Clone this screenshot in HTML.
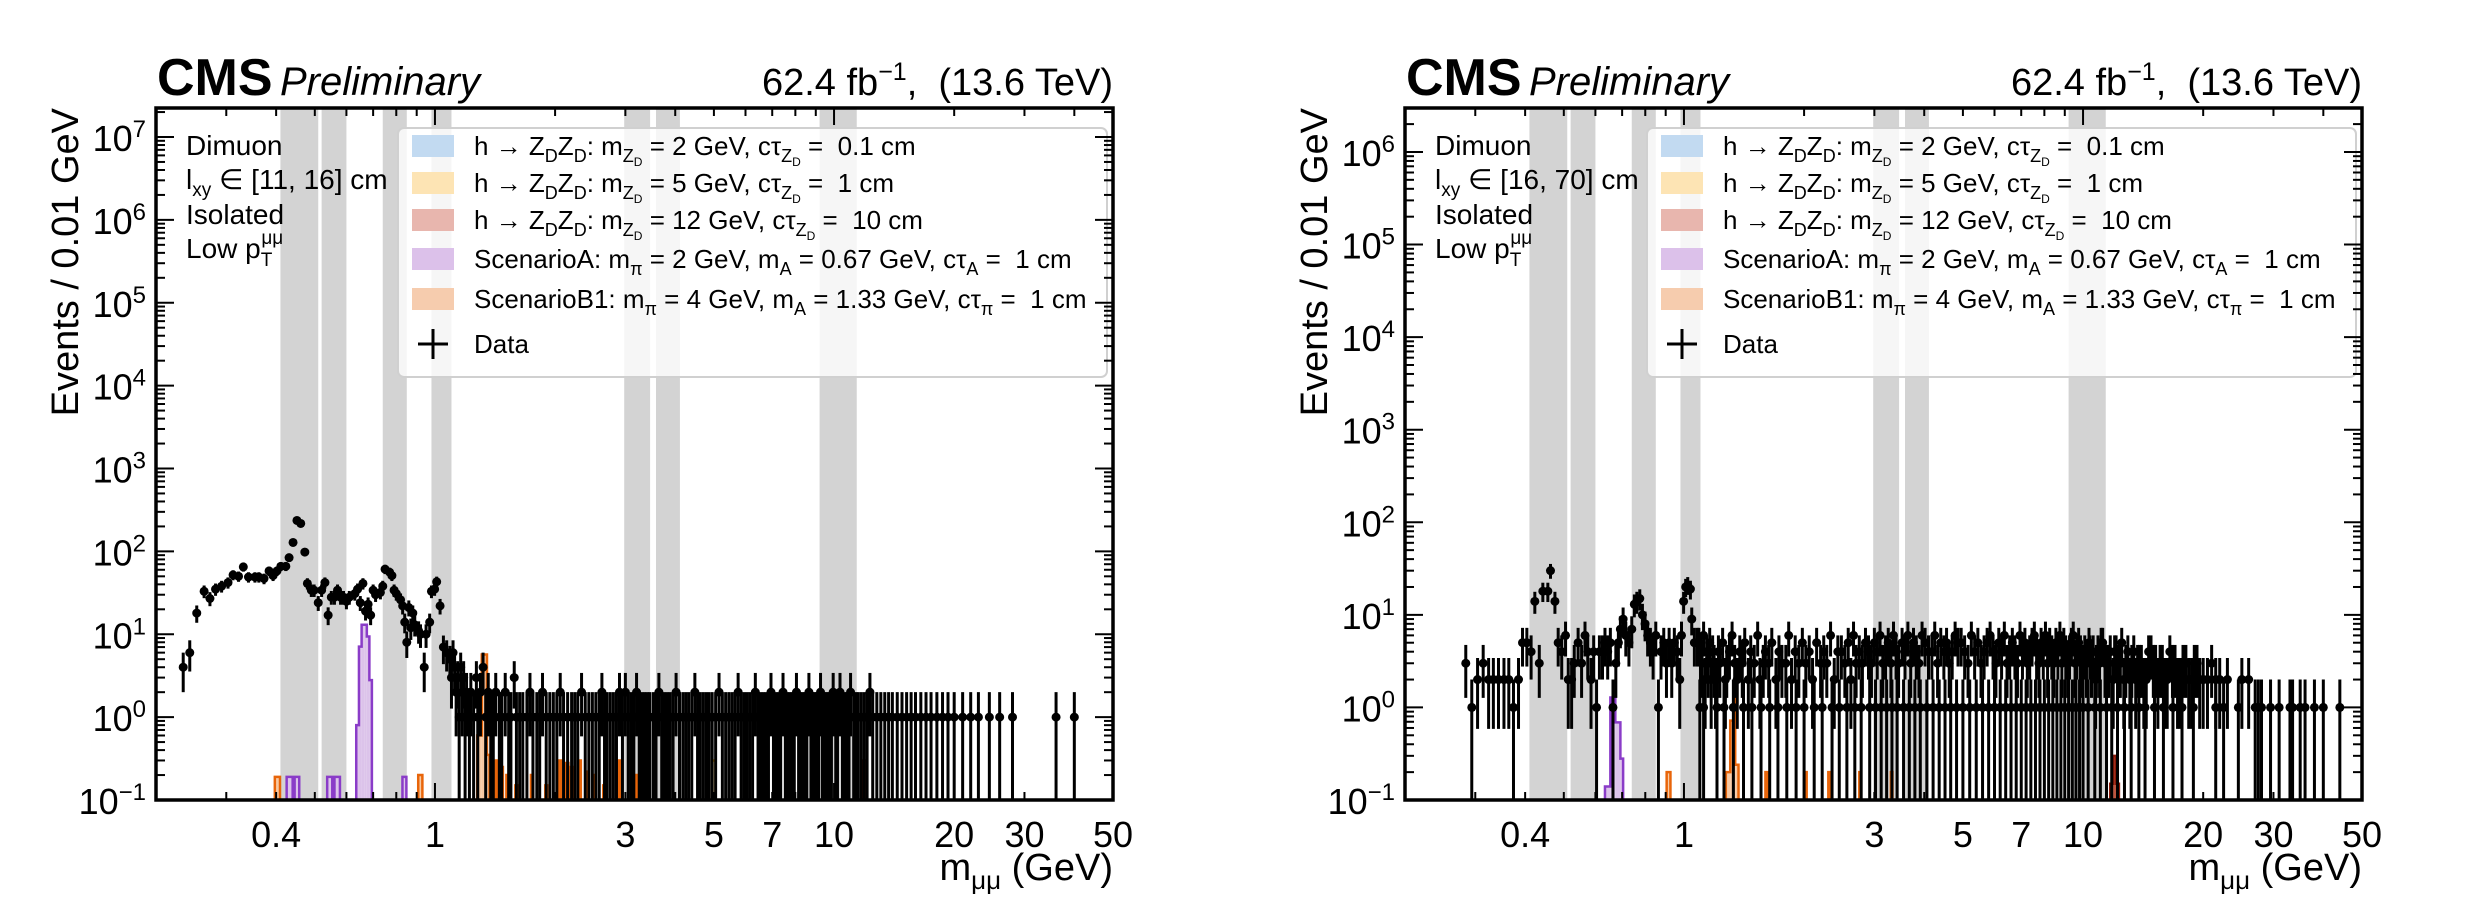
<!DOCTYPE html>
<html><head><meta charset="utf-8"><style>
html,body{margin:0;padding:0;background:#fff}
svg{display:block;font-family:"Liberation Sans",Arial,sans-serif}
</style></head><body>
<svg id="fig" width="2486" height="898" viewBox="0 0 2486 898" xmlns="http://www.w3.org/2000/svg">
<g id="p0"></g>
<g id="p1"></g>
</svg>
<script>
// ---------------- DATA ----------------
const vetoLo = [0.41, 0.52, 0.74, 0.98, 2.98, 3.58, 9.2];
const vetoHi = [0.51, 0.60, 0.85, 1.10, 3.46, 4.11, 11.4];
const xTickVals = [0.4, 1, 3, 5, 7, 10, 20, 30, 50];
const xTickLabels = ["0.4", "1", "3", "5", "7", "10", "20", "30", "50"];

const leftLowMass = [0.234,0.243,0.253,0.264,0.273,0.282,0.292,0.303,0.312,0.322,0.331,0.341,0.354,0.362,0.373,0.384,0.393,0.402,0.411,0.423,0.431,0.441,0.451,0.461,0.472,0.479,0.490,0.498,0.51,0.52,0.53,0.54,0.55,0.56,0.57,0.58,0.59,0.60,0.61,0.63,0.64,0.65,0.66,0.67,0.68,0.69,0.70,0.71,0.73,0.74,0.75,0.77,0.78,0.79,0.80,0.82,0.83,0.84,0.85,0.86,0.87,0.88,0.89,0.91,0.92,0.94,0.95,0.97,0.98,0.998,1.01,1.03,1.05,1.07];
const leftLowCount = [4,6,18,33,27,35,38,42,52,50,65,49,49,49,47,58,51,58,66,66,84,128,236,217,98,41,34,34,24,34,42,17,28,28,34,28,28,25,28,31,35,24,41,19,23,17,34,30,32,38,61,56,51,34,31,26,22,14,8,21,12,18,13,11,10,4,10,14,33,35,43,22,7,6];

const hiMass = [1.09,1.10,1.11,1.12,1.13,1.14,1.15,1.16,1.17,1.18,1.19,1.20,
1.22,1.23,1.25,1.27,1.28,1.30,1.32,1.34,1.36,1.38,
1.40,1.42,1.45,1.47,1.50,1.53,1.55,1.58,1.60,1.63,
1.66,1.70,1.73,1.76,1.80,1.83,1.86,1.90,1.94,1.98,
2.02,2.06,2.10,2.15,2.20,2.24,2.28,2.33,2.38,2.43,
2.48,2.53,2.58,2.62,2.66,2.70,2.75,2.80,2.85,2.90,
2.95,3.00,3.05,3.10,3.15,3.20,3.25,3.30,3.35,3.40,3.45,
3.52,3.58,3.64,3.70,3.76,3.82,3.88,3.95,4.02,4.10,
4.18,4.25,4.32,4.40,4.48,4.55,4.62,4.70,4.78,4.86,
4.95,5.05,5.15,5.25,5.35,5.45,5.55,5.65,5.75,5.85,5.95,6.05,6.15,6.25,6.35,6.45,6.55,6.65,6.75,6.85,6.95,7.05,7.15,7.25,7.35,7.45,7.55,7.65,7.75,7.85,7.95,8.05,8.15,8.25,8.35,8.45,8.55,8.65,8.75,8.85,8.95,9.05,9.15,9.25,9.35,9.45,9.55,9.65,9.75,9.85,9.95,
10.1,10.2,10.35,10.5,10.6,10.75,10.9,11.0,11.2,11.35,
11.5,11.7,11.9,12.1,12.3,12.5,12.8,13.1,13.4,13.7,
14.0,14.4,14.8,15.2,15.6,16.0,16.5,17.0,17.5,18.1,
18.7,19.3,20.0,21.0,22.0,23.0,24.5,26.0,28.0,36.0,40.0];
const leftHiCount = [5,3,6,4,2,3,1,4,2,3,1,2,
1,2,1,3,1,2,4,1,2,1,
1,2,1,1,2,1,1,3,1,1,
1,1,2,1,1,1,2,1,1,1,
1,2,1,1,1,1,1,2,1,1,
1,1,1,2,1,1,1,1,1,2,
1,2,1,1,1,2,1,1,1,1,1,
1,1,2,1,1,1,1,1,2,1,
1,1,1,1,2,1,1,1,1,1,
1,1,2,1,1,1,1,1,2,1,1,1,1,1,2,1,1,1,1,1,2,1,1,1,1,2,1,1,1,1,1,2,1,1,1,1,1,2,1,1,1,1,1,2,1,1,1,1,1,1,2,
1,1,2,1,1,1,1,2,1,1,
1,1,1,1,2,1,1,1,1,1,
1,1,1,1,1,1,1,1,1,1,
1,1,1,1,1,1,1,1,1,1,1];

const rightLowMass = [0.284,0.294,0.304,0.314,0.324,0.333,0.343,0.354,0.364,0.374,0.385,0.394,0.404,0.414,0.423,0.434,0.443,0.456,0.463,0.475,0.484,0.494,0.505,0.513,0.523,0.531,0.543,0.554,0.565,0.574,0.585,0.594,0.604,0.614,0.625,0.634,0.644,0.654,0.664,0.675,0.685,0.693,0.704,0.715,0.728,0.740,0.751,0.762,0.775,0.787,0.799,0.811,0.824,0.837,0.85,0.863,0.876,0.89,0.904,0.918,0.932,0.946,0.962,0.976,0.986,0.998,1.01,1.022,1.038,1.046,1.062,1.08,1.096];
const rightLowCount = [3,1,2,3,2,2,2,2,2,1,2,5,5,4,14,3,18,18,30,14,5,4,6,2,2,3,5,3,6,4,2,4,1,4,4,5,4,5,1,3,5,7,9,6,5,7,13,14,15,10,8,6,5,4,6,1,4,5,3,5,3,5,4,2,6,14,20,21,19,9,5,5,1];
const rightHiCount = [5,4,3,6,2,4,3,5,2,4,3,2,
4,3,5,2,3,4,6,3,2,4,
3,5,2,4,3,6,2,3,4,3,
5,2,4,3,3,6,2,4,3,5,
3,4,2,5,3,4,3,6,2,4,
4,3,5,2,6,3,4,3,5,4,
3,5,4,6,3,4,5,3,6,4,3,
5,4,6,3,5,4,3,6,5,4,
4,6,3,5,4,5,3,4,6,5,
5,4,3,6,4,5,3,4,5,6,4,3,5,4,6,3,4,5,4,3,6,4,5,3,4,5,6,4,3,5,4,6,3,5,4,3,5,4,6,3,5,4,3,4,5,6,3,4,5,4,3,
4,3,5,3,4,2,4,3,5,3,
3,4,2,4,3,5,3,2,4,3,
3,2,4,3,3,2,4,3,2,3,
2,3,2,3,2,2,1,2,1,1,1];
const rightExtraMass = [10.4,10.8,11.1,11.6,12.0,12.4,12.65,12.95,13.25,13.55,13.85,14.2,14.6,15.0,15.4,15.8,16.25,16.75,17.25,17.8,18.4,19.0,19.6,20.5,21.5,22.5,25,27,29.5,31,33,35,38,44];
const rightExtraCount = [4,3,5,3,4,3,2,4,3,2,3,2,4,3,2,3,2,3,2,3,2,3,2,2,2,1,2,1,1,1,1,1,1,1];
const rightOnesMass = [1.12,1.21,1.26,1.33,1.41,1.48,1.56,1.64,1.72,1.81,1.91,2.00,2.12,2.22,2.35,2.45,2.56,2.68,2.78,2.92,3.02,3.12,3.22,3.32,3.42,3.55,3.67,3.79,3.91,4.06,4.21,4.36,4.51,4.66,4.82,5.0,5.2,5.4,5.6,5.8,6.0,6.2,6.4,6.6,6.8,7.0,7.2,7.4,7.6,7.8,8.0,8.2,8.4,8.6,8.8,9.0,9.2,9.4,9.6,9.8,10.0,10.3,10.7,11.05,11.45,11.8,12.2,12.7,13.2,13.8,14.3,15.1,15.9,16.8,17.7,18.9,21.5,27.5,33.5];

const leftPurpleLo = [0.425,0.445,0.537,0.56,0.635,0.645,0.655,0.665,0.675,0.685,0.829];
const leftPurpleHi = [0.44,0.457,0.553,0.578,0.645,0.655,0.665,0.675,0.685,0.695,0.848];
const leftPurpleVal = [0.19,0.19,0.19,0.19,0.8,7.1,13,13,9.4,2.8,0.19];
const leftOrangeLo = [0.397,0.908,1.276,1.31,1.33,1.35,1.41,1.46,1.51,1.59,1.74,1.89,2.04,2.13,2.19,2.29,2.39,2.49,2.64,2.89,3.19];
const leftOrangeHi = [0.409,0.93,1.31,1.33,1.35,1.37,1.43,1.48,1.53,1.61,1.76,1.91,2.07,2.16,2.22,2.32,2.42,2.52,2.67,2.92,3.22];
const leftOrangeVal = [0.19,0.2,0.6,5.7,5.7,0.35,0.3,0.25,0.2,0.15,0.2,0.15,0.3,0.28,0.25,0.3,0.22,0.2,0.15,0.3,0.2];
const leftYellowLo = [4.95]; const leftYellowHi = [5.05]; const leftYellowVal = [0.3];
const leftRedLo = [11.85]; const leftRedHi = [12.1]; const leftRedVal = [0.3];
const rightPurpleLo = [0.634,0.654,0.673,0.693];
const rightPurpleHi = [0.654,0.673,0.693,0.704];
const rightPurpleVal = [0.14,1.28,0.69,0.28];
const rightOrangeLo = [0.905,1.273,1.306,1.33,1.344,1.6,2.0,2.3,2.75,3.3];
const rightOrangeHi = [0.925,1.306,1.33,1.344,1.37,1.62,2.03,2.33,2.78,3.33];
const rightOrangeVal = [0.2,0.2,0.72,1.24,0.24,0.2,0.2,0.2,0.2,0.2];
const rightRedLo = [11.7,11.9,12.1]; const rightRedHi = [11.9,12.1,12.3]; const rightRedVal = [0.15,0.3,0.15];

// ---------------- DRAW ----------------
const NS = 'http://www.w3.org/2000/svg';
const XMIN = 0.2, XMAX = 50;
const panels = [
  {g: document.getElementById('p0'), x0:156, y0:108, w:957, h:692, ymin:-1, ymax:7.35, lxy:'[11, 16] cm'},
  {g: document.getElementById('p1'), x0:1405, y0:108, w:957, h:692, ymin:-1, ymax:6.475, lxy:'[16, 70] cm'}
];
function mk(tag, attrs, parent){
  const e = document.createElementNS(NS, tag);
  for (const k in attrs) e.setAttribute(k, attrs[k]);
  parent.appendChild(e);
  return e;
}
function X(p, m){ return p.x0 + (Math.log10(m) - Math.log10(XMIN)) / (Math.log10(XMAX) - Math.log10(XMIN)) * p.w; }
function Y(p, c){
  const l = c > 0 ? Math.log10(c) : p.ymin - 1;
  const v = Math.max(p.ymin - 0.05, Math.min(p.ymax + 0.05, l));
  return p.y0 + p.h - (v - p.ymin) / (p.ymax - p.ymin) * p.h;
}

function drawHist(p, parent, lo, hi, val, fill, stroke, name){
  const n = Math.min(lo.length, hi.length, val.length);
  const yb = p.y0 + p.h;
  let d = '';
  for (let i = 0; i < n; i++){
    const x1 = X(p, lo[i]), x2 = X(p, hi[i]), yt = Y(p, val[i]);
    const r = mk('rect', {x:x1, y:yt, width:Math.max(1, x2-x1), height:Math.max(0, yb-yt), fill:fill}, parent);
    
    
    const startsGroup = i === 0 || Math.abs(hi[i-1] - lo[i]) > 1e-6;
    if (startsGroup) d += `M${x1},${yb}V${yt}`; else d += `V${yt}`;
    d += `H${x2}`;
    const endsGroup = i === n - 1 || Math.abs(hi[i] - lo[i+1]) > 1e-6;
    if (endsGroup) d += `V${yb}`;
  }
  const s = mk('path', {d:d, fill:'none', stroke:stroke, 'stroke-width':2.5}, parent);
  
  
}
function drawData(p, parent, masses, counts){
  for (let i = 0; i < Math.min(masses.length, counts.length); i++){
    const c = counts[i]; if (c <= 0) continue;
    const e = Math.sqrt(c);
    const x = X(p, masses[i]);
    const bar = mk('line', {x1:x, x2:x, y1:Y(p, c + e), y2:Y(p, c - e), stroke:'#000', 'stroke-width':3}, parent);
    
    
    const dot = mk('circle', {cx:x, cy:Y(p, c), r:4.5, fill:'#000'}, parent);
    
    
  }
}
function sup(t, base, s){
  const a = mk('tspan', {}, t); a.textContent = base;
  const b = mk('tspan', {dy:-14, 'font-size':24}, t); b.textContent = s;
}

panels.forEach((p, pi) => {
  const g = p.g;
  const clipId = 'clip' + pi;
  const defs = mk('defs', {}, g);
  const cp = mk('clipPath', {id:clipId}, defs);
  mk('rect', {x:p.x0, y:p.y0, width:p.w, height:p.h}, cp);
  const plot = mk('g', {'clip-path':`url(#${clipId})`}, g);
  
  

  for (let i = 0; i < vetoLo.length; i++){
    const b = mk('rect', {x:X(p, vetoLo[i]), y:p.y0, width:X(p, vetoHi[i]) - X(p, vetoLo[i]), height:p.h, fill:'#d3d3d3'}, plot);
    
    
  }
  const orangeF = '#f7c9a3', orangeS = '#e8650a', purpleF = '#dcc3ea', purpleS = '#8a3cc8';
  if (pi === 0){
    drawHist(p, plot, leftYellowLo, leftYellowHi, leftYellowVal, '#fde3b0', '#f0a500', 'zd-5gev-hist');
    drawHist(p, plot, leftRedLo, leftRedHi, leftRedVal, '#c0553f', '#8b1a0a', 'zd-12gev-hist');
    drawHist(p, plot, leftPurpleLo, leftPurpleHi, leftPurpleVal, purpleF, purpleS, 'scenario-a-hist');
    drawHist(p, plot, leftOrangeLo, leftOrangeHi, leftOrangeVal, orangeF, orangeS, 'scenario-b1-hist');
    drawData(p, plot, leftLowMass, leftLowCount);
    drawData(p, plot, hiMass, leftHiCount);
  } else {
    drawHist(p, plot, rightRedLo, rightRedHi, rightRedVal, '#c0553f', '#8b1a0a', 'zd-12gev-hist');
    drawHist(p, plot, rightPurpleLo, rightPurpleHi, rightPurpleVal, purpleF, purpleS, 'scenario-a-hist');
    drawHist(p, plot, rightOrangeLo, rightOrangeHi, rightOrangeVal, orangeF, orangeS, 'scenario-b1-hist');
    drawData(p, plot, rightLowMass, rightLowCount);
    drawData(p, plot, hiMass, rightHiCount);
    drawData(p, plot, rightExtraMass, rightExtraCount);
    drawData(p, plot, rightOnesMass, rightOnesMass.map(() => 1));
  }

  // legend
  const lg = mk('g', {transform:`translate(${p.x0 + 242},128)`}, g);
  
  
  const lb = mk('rect', {x:0, y:0, width:709, height:249, rx:6, fill:'#fff', 'fill-opacity':0.8, stroke:'#d0d0d0', 'stroke-width':2}, lg);
  
  
  const sw = ['#c2daf1', '#fde4b4', '#e8b6ae', '#dcc1ea', '#f6ccae'];
  const rowsY = [7, 44, 81, 120, 160];
  const F = 26, FS = 18, FSS = 12;
  const entries = [
    ['h → Z','D','Z','D',': m','Z','D',' = 2 GeV, cτ','Z','D',' =\u00a0\u00a00.1 cm'],
    ['h → Z','D','Z','D',': m','Z','D',' = 5 GeV, cτ','Z','D',' =\u00a0\u00a01 cm'],
    ['h → Z','D','Z','D',': m','Z','D',' = 12 GeV, cτ','Z','D',' =\u00a0\u00a010 cm']
  ];
  for (let i = 0; i < 5; i++){
    const s = mk('rect', {x:14, y:rowsY[i], width:42, height:22, fill:sw[i]}, lg);
    
    
  }
  for (let i = 0; i < 3; i++){
    const e = entries[i];
    const t = mk('text', {x:76, y:rowsY[i] + 20, 'font-size':F}, lg);
    
    
    const parts = [[e[0],0,F],[e[1],7,FS],[e[2],-7,F],[e[3],7,FS],[e[4],-7,F],[e[5],7,FS],[e[6],4,FSS],[e[7],-11,F],[e[8],7,FS],[e[9],4,FSS],[e[10],-11,F]];
    parts.forEach(q => { const ts = mk('tspan', {dy:q[1], 'font-size':q[2]}, t); ts.textContent = q[0]; });
  }
  const sA = mk('text', {x:76, y:rowsY[3] + 20, 'font-size':F}, lg);
  
  
  [['ScenarioA: m',0,F],['π',7,FS],[' = 2 GeV, m',-7,F],['A',7,FS],[' = 0.67 GeV, cτ',-7,F],['A',7,FS],[' =\u00a0\u00a01 cm',-7,F]].forEach(q => { const ts = mk('tspan', {dy:q[1], 'font-size':q[2]}, sA); ts.textContent = q[0]; });
  const sB = mk('text', {x:76, y:rowsY[4] + 20, 'font-size':F}, lg);
  
  
  [['ScenarioB1: m',0,F],['π',7,FS],[' = 4 GeV, m',-7,F],['A',7,FS],[' = 1.33 GeV, cτ',-7,F],['π',7,FS],[' =\u00a0\u00a01 cm',-7,F]].forEach(q => { const ts = mk('tspan', {dy:q[1], 'font-size':q[2]}, sB); ts.textContent = q[0]; });
  const dm = mk('path', {d:'M20,216H50M35,201V231', stroke:'#000', 'stroke-width':3}, lg);
  
  
  const dt = mk('text', {x:76, y:225, 'font-size':F}, lg);
  
  
  dt.textContent = 'Data';

  // annotation
  const ann = mk('g', {'font-size':28}, g);
  
  
  const a1 = mk('text', {x:p.x0 + 30, y:155}, ann); a1.textContent = 'Dimuon';
  const a2 = mk('text', {x:p.x0 + 30, y:189}, ann);
  const a2a = mk('tspan', {}, a2); a2a.textContent = 'l';
  const a2b = mk('tspan', {dy:7, 'font-size':19}, a2); a2b.textContent = 'xy';
  const a2c = mk('tspan', {dy:-7}, a2); a2c.textContent = ' ∈ ' + p.lxy;
  const a3 = mk('text', {x:p.x0 + 30, y:224}, ann); a3.textContent = 'Isolated';
  const a4 = mk('text', {x:p.x0 + 30, y:258}, ann);
  const a4a = mk('tspan', {}, a4); a4a.textContent = 'Low p';
  const a4b = mk('tspan', {dy:8, 'font-size':19}, a4); a4b.textContent = 'T';
  const a4c = mk('tspan', {dx:-11, dy:-22, 'font-size':19}, a4); a4c.textContent = 'μμ';

  const fr = mk('rect', {x:p.x0, y:p.y0, width:p.w, height:p.h, fill:'none', stroke:'#000', 'stroke-width':3.5}, g);
  
  

  const yt = mk('g', {stroke:'#000', 'stroke-width':2}, g);
  
  
  for (let d = Math.floor(p.ymin); d <= Math.ceil(p.ymax); d++){
    for (let k = 1; k <= 9; k++){
      const v = Math.log10(k * Math.pow(10, d));
      if (v < p.ymin - 1e-9 || v > p.ymax) continue;
      const y = Y(p, Math.pow(10, v)); const L = k === 1 ? 18 : 9;
      mk('line', {x1:p.x0, x2:p.x0 + L, y1:y, y2:y}, yt);
      mk('line', {x1:p.x0 + p.w, x2:p.x0 + p.w - L, y1:y, y2:y}, yt);
    }
    if (d >= p.ymin && d <= p.ymax){
      const t = mk('text', {x:p.x0 - 10, y:Y(p, Math.pow(10, d)) + 14, 'font-size':36, 'text-anchor':'end', stroke:'none'}, g);
      
      
      sup(t, '10', d < 0 ? '−' + (-d) : String(d));
    }
  }
  const xt = mk('g', {stroke:'#000', 'stroke-width':2}, g);
  
  
  for (let d = -1; d <= 1; d++){
    for (let k = 1; k <= 9; k++){
      const m = k * Math.pow(10, d);
      if (m < XMIN - 1e-9 || m > XMAX + 1e-9) continue;
      const x = X(p, m); const L = k === 1 ? 17 : 8;
      mk('line', {x1:x, x2:x, y1:p.y0 + p.h, y2:p.y0 + p.h - L}, xt);
      mk('line', {x1:x, x2:x, y1:p.y0, y2:p.y0 + L}, xt);
    }
  }
  xTickVals.forEach((v, i) => {
    const t = mk('text', {x:X(p, v), y:p.y0 + p.h + 47, 'font-size':36, 'text-anchor':'middle'}, g);
    
    
    t.textContent = xTickLabels[i];
  });
  const xl = mk('text', {x:p.x0 + p.w, y:880, 'font-size':38, 'text-anchor':'end'}, g);
  
  
  const xl1 = mk('tspan', {}, xl); xl1.textContent = 'm';
  const xl2 = mk('tspan', {dy:9, 'font-size':26}, xl); xl2.textContent = 'μμ';
  const xl3 = mk('tspan', {dy:-9}, xl); xl3.textContent = ' (GeV)';
  const yl = mk('text', {x:0, y:0, 'font-size':38, 'text-anchor':'end', transform:`translate(${p.x0 - 78},${p.y0}) rotate(-90)`}, g);
  
  
  yl.textContent = 'Events / 0.01 GeV';
  const cms = mk('text', {x:p.x0 + 1, y:95, 'font-size':52, 'font-weight':'bold'}, g);
  
  
  cms.textContent = 'CMS';
  const pre = mk('text', {x:p.x0 + 124, y:95, 'font-size':40, 'font-style':'italic'}, g);
  
  
  pre.textContent = 'Preliminary';
  const lumi = mk('text', {x:p.x0 + p.w, y:95, 'font-size':38, 'text-anchor':'end'}, g);
  
  
  const l1 = mk('tspan', {}, lumi); l1.textContent = '62.4 fb';
  const l2 = mk('tspan', {dy:-15, 'font-size':25}, lumi); l2.textContent = '−1';
  const l3 = mk('tspan', {dy:15}, lumi); l3.textContent = ',\u00a0\u00a0(13.6 TeV)';
});
</script>
</body></html>
